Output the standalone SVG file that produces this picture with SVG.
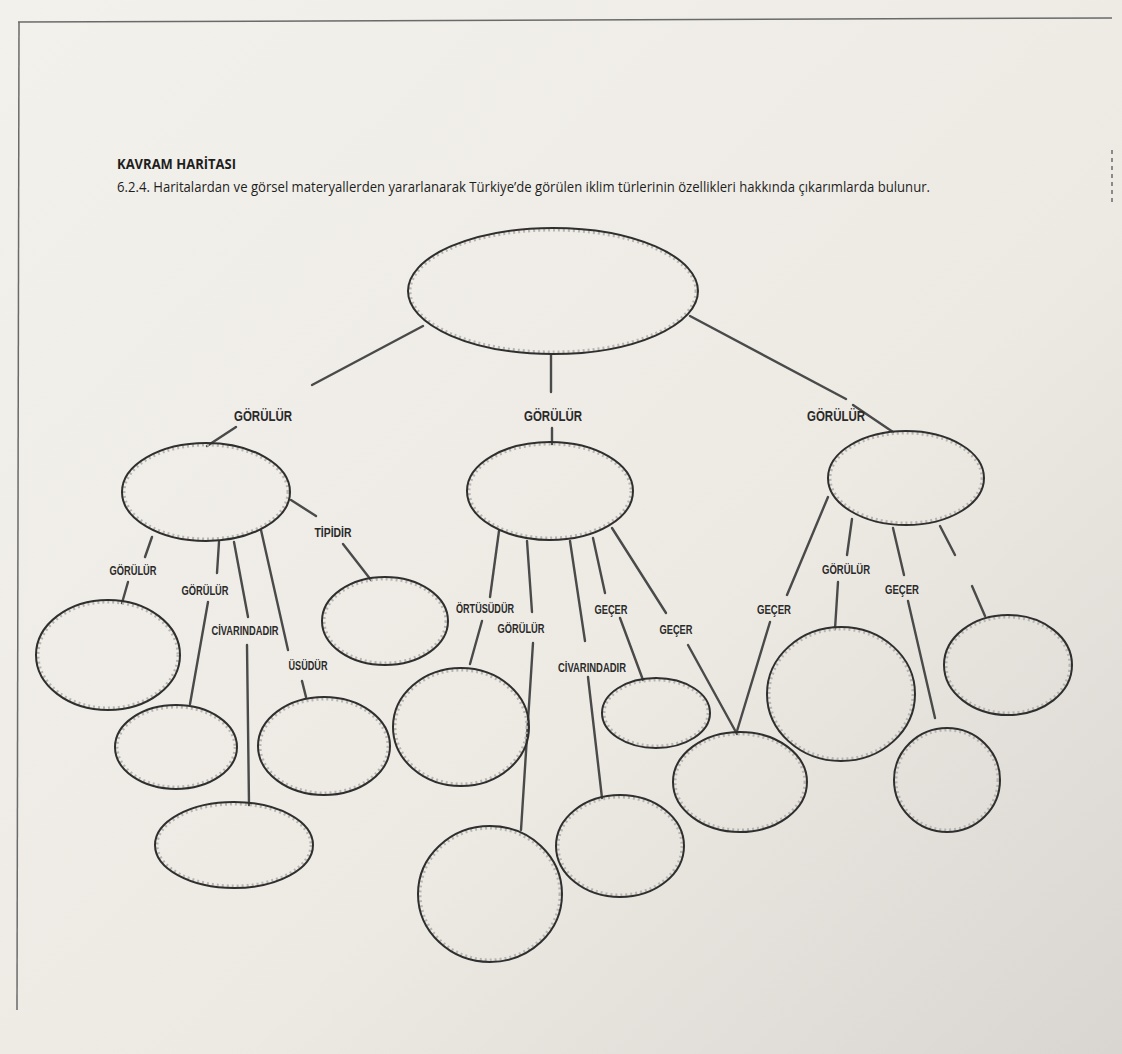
<svg xmlns="http://www.w3.org/2000/svg" width="1122" height="1054" viewBox="0 0 1122 1054">
<defs>
<linearGradient id="paper" x1="0" y1="0" x2="1" y2="1">
<stop offset="0" stop-color="#f3f1ec"/>
<stop offset="0.6" stop-color="#edeae4"/>
<stop offset="1" stop-color="#d9d6d1"/>
</linearGradient>
<style>
.node{fill:none;stroke:#2f2f2f;stroke-width:2}
.node2{fill:none;stroke:#b8b5b0;stroke-width:3;stroke-dasharray:2 3}
.conn line{stroke:#4a4a4a;stroke-width:2.4;stroke-linecap:round}
.lbl{font-family:"Liberation Sans",Arial,sans-serif;font-weight:bold;font-size:13px;fill:#2a2a2a;text-anchor:middle}
.top{font-size:15px}
.hdr{font-family:"Open Sans","Liberation Sans",sans-serif;fill:#1e1e1e}
</style>
</defs>
<rect x="0" y="0" width="1122" height="1054" fill="url(#paper)"/>
<g id="frame" stroke="#6a6a6a" stroke-width="1.5" fill="none">
<line x1="18" y1="22" x2="1112" y2="18"/>
<line x1="19" y1="22" x2="17" y2="1010"/>
<line x1="1112" y1="150" x2="1112" y2="205" stroke-dasharray="4 4"/>
</g>
<g id="header">
<text class="hdr" x="117" y="169" font-size="15" font-weight="bold" textLength="119" lengthAdjust="spacingAndGlyphs">KAVRAM HARİTASI</text>
<text class="hdr" x="117" y="192" font-size="14" textLength="813" lengthAdjust="spacingAndGlyphs">6.2.4. Haritalardan ve görsel materyallerden yararlanarak Türkiye’de görülen iklim türlerinin özellikleri hakkında çıkarımlarda bulunur.</text>
</g>
<g id="connectors" class="conn">
<line x1="423" y1="326" x2="312" y2="385"/>
<line x1="236" y1="427" x2="207" y2="446"/>
<line x1="551" y1="355" x2="551" y2="392"/>
<line x1="552" y1="428" x2="552" y2="444"/>
<line x1="690" y1="316" x2="846" y2="399"/>
<line x1="853" y1="405" x2="893" y2="432"/>
<line x1="152" y1="537" x2="145" y2="557"/>
<line x1="128" y1="582" x2="122" y2="603"/>
<line x1="219" y1="542" x2="217" y2="573"/>
<line x1="208" y1="602" x2="190" y2="704"/>
<line x1="234" y1="542" x2="248" y2="617"/>
<line x1="247" y1="645" x2="249" y2="805"/>
<line x1="261" y1="530" x2="288" y2="650"/>
<line x1="302" y1="681" x2="306" y2="697"/>
<line x1="291" y1="500" x2="316" y2="516"/>
<line x1="343" y1="544" x2="371" y2="580"/>
<line x1="499" y1="531" x2="490" y2="597"/>
<line x1="482" y1="621" x2="470" y2="664"/>
<line x1="527" y1="541" x2="532" y2="612"/>
<line x1="533" y1="643" x2="521" y2="830"/>
<line x1="570" y1="541" x2="585" y2="641"/>
<line x1="588" y1="677" x2="602" y2="798"/>
<line x1="593" y1="538" x2="605" y2="593"/>
<line x1="620" y1="618" x2="643" y2="680"/>
<line x1="612" y1="528" x2="666" y2="613"/>
<line x1="688" y1="645" x2="737" y2="734"/>
<line x1="828" y1="497" x2="787" y2="595"/>
<line x1="770" y1="622" x2="737" y2="731"/>
<line x1="852" y1="519" x2="847" y2="555"/>
<line x1="838" y1="582" x2="835" y2="629"/>
<line x1="893" y1="528" x2="904" y2="575"/>
<line x1="908" y1="601" x2="935" y2="718"/>
<line x1="940" y1="526" x2="955" y2="555"/>
<line x1="972" y1="586" x2="985" y2="616"/>
</g>
<g id="labels">
<text class="lbl top" x="263" y="421" textLength="58" lengthAdjust="spacingAndGlyphs">GÖRÜLÜR</text>
<text class="lbl top" x="553" y="421" textLength="58" lengthAdjust="spacingAndGlyphs">GÖRÜLÜR</text>
<text class="lbl top" x="836" y="421" textLength="58" lengthAdjust="spacingAndGlyphs">GÖRÜLÜR</text>
<text class="lbl" x="133" y="575" textLength="47" lengthAdjust="spacingAndGlyphs">GÖRÜLÜR</text>
<text class="lbl" x="205" y="595" textLength="47" lengthAdjust="spacingAndGlyphs">GÖRÜLÜR</text>
<text class="lbl" x="245" y="635" textLength="67" lengthAdjust="spacingAndGlyphs">CİVARINDADIR</text>
<text class="lbl" x="308" y="670" textLength="39" lengthAdjust="spacingAndGlyphs">ÜSÜDÜR</text>
<text class="lbl" x="333" y="537" textLength="37" lengthAdjust="spacingAndGlyphs">TİPİDİR</text>
<text class="lbl" x="485" y="613" textLength="58" lengthAdjust="spacingAndGlyphs">ÖRTÜSÜDÜR</text>
<text class="lbl" x="521" y="633" textLength="47" lengthAdjust="spacingAndGlyphs">GÖRÜLÜR</text>
<text class="lbl" x="592" y="672" textLength="68" lengthAdjust="spacingAndGlyphs">CİVARINDADIR</text>
<text class="lbl" x="611" y="614" textLength="33" lengthAdjust="spacingAndGlyphs">GEÇER</text>
<text class="lbl" x="676" y="634" textLength="33" lengthAdjust="spacingAndGlyphs">GEÇER</text>
<text class="lbl" x="774" y="614" textLength="34" lengthAdjust="spacingAndGlyphs">GEÇER</text>
<text class="lbl" x="846" y="574" textLength="48" lengthAdjust="spacingAndGlyphs">GÖRÜLÜR</text>
<text class="lbl" x="902" y="594" textLength="34" lengthAdjust="spacingAndGlyphs">GEÇER</text>
</g>
<g id="n-top"><ellipse class="node2" cx="553" cy="291" rx="143" ry="61"/><ellipse class="node" cx="553" cy="291" rx="145" ry="63"/></g>
<g id="n-left"><ellipse class="node2" cx="206" cy="492" rx="82" ry="47"/><ellipse class="node" cx="206" cy="492" rx="84" ry="49"/></g>
<g id="n-center"><ellipse class="node2" cx="550" cy="491" rx="81" ry="47"/><ellipse class="node" cx="550" cy="491" rx="83" ry="49"/></g>
<g id="n-right"><ellipse class="node2" cx="906" cy="478" rx="76" ry="45"/><ellipse class="node" cx="906" cy="478" rx="78" ry="47"/></g>
<g id="n-l1"><ellipse class="node2" cx="108" cy="655" rx="70" ry="53"/><ellipse class="node" cx="108" cy="655" rx="72" ry="55"/></g>
<g id="n-l2"><ellipse class="node2" cx="176" cy="747" rx="59" ry="40"/><ellipse class="node" cx="176" cy="747" rx="61" ry="42"/></g>
<g id="n-l3"><ellipse class="node2" cx="234" cy="845" rx="77" ry="41"/><ellipse class="node" cx="234" cy="845" rx="79" ry="43"/></g>
<g id="n-l4"><ellipse class="node2" cx="324" cy="746" rx="64" ry="47"/><ellipse class="node" cx="324" cy="746" rx="66" ry="49"/></g>
<g id="n-l5"><ellipse class="node2" cx="385" cy="621" rx="61" ry="42"/><ellipse class="node" cx="385" cy="621" rx="63" ry="44"/></g>
<g id="n-c1"><ellipse class="node2" cx="461" cy="727" rx="66" ry="57"/><ellipse class="node" cx="461" cy="727" rx="68" ry="59"/></g>
<g id="n-c2"><ellipse class="node2" cx="490" cy="894" rx="70" ry="66"/><ellipse class="node" cx="490" cy="894" rx="72" ry="68"/></g>
<g id="n-c3"><ellipse class="node2" cx="620" cy="846" rx="62" ry="49"/><ellipse class="node" cx="620" cy="846" rx="64" ry="51"/></g>
<g id="n-c4"><ellipse class="node2" cx="656" cy="713" rx="52" ry="33"/><ellipse class="node" cx="656" cy="713" rx="54" ry="35"/></g>
<g id="n-c5"><ellipse class="node2" cx="740" cy="782" rx="65" ry="48"/><ellipse class="node" cx="740" cy="782" rx="67" ry="50"/></g>
<g id="n-r2"><ellipse class="node2" cx="841" cy="694" rx="72" ry="65"/><ellipse class="node" cx="841" cy="694" rx="74" ry="67"/></g>
<g id="n-r3"><ellipse class="node2" cx="947" cy="780" rx="51" ry="50"/><ellipse class="node" cx="947" cy="780" rx="53" ry="52"/></g>
<g id="n-r4"><ellipse class="node2" cx="1008" cy="665" rx="62" ry="48"/><ellipse class="node" cx="1008" cy="665" rx="64" ry="50"/></g>
</svg>
